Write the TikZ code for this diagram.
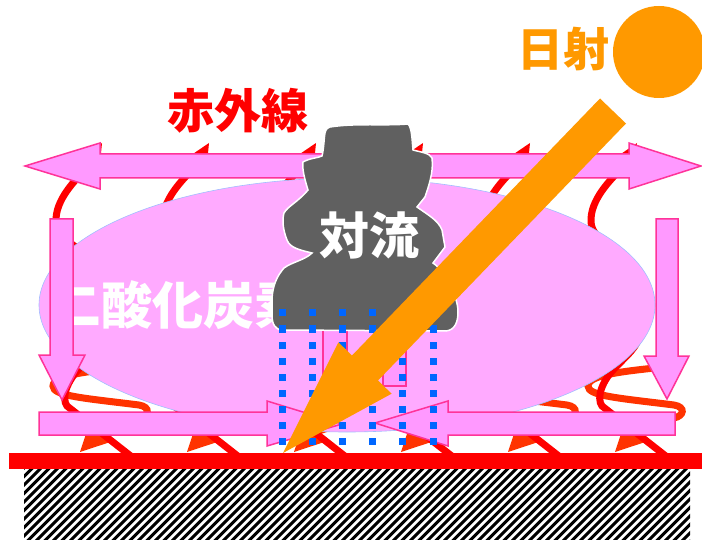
\documentclass[tikz,border=0pt]{standalone}
\usepackage{fontspec}
\newfontfamily\jp{Noto Sans CJK JP}
\definecolor{arrowpink}{RGB}{255,153,255}
\definecolor{arrowedge}{RGB}{255,51,153}
\definecolor{gaspink}{RGB}{255,170,255}
\definecolor{gasedge}{RGB}{160,190,255}
\definecolor{irred}{RGB}{255,0,0}
\definecolor{backred}{RGB}{255,51,0}
\definecolor{sunorange}{RGB}{255,153,0}
\definecolor{cloudgray}{RGB}{96,96,96}
\definecolor{dotblue}{RGB}{0,102,255}
\tikzset{
  pinkarrow/.style={fill=arrowpink,draw=arrowedge,line width=1.5pt,line join=miter},
  upwave/.style={draw=irred,line width=7pt},
  upwavehead/.style={fill=irred},
  downwave/.style={draw=backred,line width=7pt,line cap=round},
  downwavehead/.style={fill=backred},
  jplabel/.style={inner sep=0pt,outer sep=0pt},
  hatchline/.style={draw=black,line width=3pt},
  dotsq/.style={fill=dotblue}
}
\begin{document}
\begin{tikzpicture}[x=1pt,y=-1pt]
\useasboundingbox (0,0) rectangle (702,540);
\fill[white] (0,0) rectangle (702,540);

% hatched ground
\begin{scope}
  \clip (24,469) rectangle (690,540);
  \foreach \i in {0,...,95} {
    \pgfmathsetmacro\hx{-70+8.5*\i}
    \draw[hatchline] (\hx,545) -- ++(90,-90);
  }
\end{scope}

% back radiation coils (downward infrared)
\foreach \k in {0,...,5} {
  \pgfmathsetmacro\xl{53+107*\k}
  \begin{scope}[shift={(\xl,0)}]
    \draw[downwave] (85,366) .. controls (40,371) and (0,374) .. (0,386)
      .. controls (0,396) and (30,398) .. (86,405)
      .. controls (98,407) and (96,416) .. (86,418)
      .. controls (70,425) and (55,430) .. (46,433);
    \fill[downwavehead] (27,452) -- (58.6,441.6) -- (37.4,420.4) -- cycle;
  \end{scope}
}

% upward infrared from the ground
\foreach \k in {0,...,5} {
  \pgfmathsetmacro\xg{127+107*\k}
  \begin{scope}[shift={(\xg,0)}]
    \draw[upwave] (5,457) -- (-60,406)
      .. controls (-66,398) and (-60,380) .. (-45,366)
      .. controls (-30,350) and (-21,345) .. (-21,322)
      .. controls (-21,300) and (-20,285) .. (-24,272)
      .. controls (-32,252) and (-70,244) .. (-71,222)
      .. controls (-72,200) and (-52,180) .. (-39,167);
    \fill[upwavehead] (-25,143) -- (-28,173) -- (-50,160) -- cycle;
  \end{scope}
}

% carbon dioxide layer
\fill[gaspink,draw=gasedge,line width=0.6pt] (347,305) ellipse [x radius=308,y radius=127];
\node[jplabel,text=white,font={\jp\bfseries\fontsize{51}{51}\selectfont}] (co2) at (178,305) {二酸化炭素};

% rising air columns
\filldraw[pinkarrow] (323,300) rectangle (347,386);
\filldraw[pinkarrow] (383,300) rectangle (406,386);

% horizontal and vertical heat transport arrows
\filldraw[pinkarrow] (25,166) -- (100,143) -- (100,154) -- (629,154) -- (629,143)
  -- (701,166) -- (629,189) -- (629,178) -- (100,178) -- (100,189) -- cycle;
\filldraw[pinkarrow] (50,219) -- (73,219) -- (73,355) -- (85,355) -- (62,400)
  -- (39,355) -- (50,355) -- cycle;
\filldraw[pinkarrow] (656,219) -- (678,219) -- (678,356) -- (689,356) -- (667,399)
  -- (644,356) -- (656,356) -- cycle;
\filldraw[pinkarrow] (39,412) -- (267,412) -- (267,401) -- (342,424) -- (267,446)
  -- (267,435) -- (39,435) -- cycle;
\filldraw[pinkarrow] (675,412) -- (448,412) -- (448,401) -- (375,423) -- (448,446)
  -- (448,435) -- (675,435) -- cycle;

% convection cloud
\filldraw[fill=cloudgray,draw=white,line width=1.5pt]
  (330,127) .. controls (355,123) and (385,126) .. (408,124)
  .. controls (412,128) and (412,140) .. (413,150)
  .. controls (420,152) and (430,153) .. (432,158)
  .. controls (434,172) and (428,188) .. (425,197)
  -- (417,207)
  .. controls (428,215) and (438,220) .. (442,230)
  -- (445,247) -- (433,263)
  .. controls (440,268) and (445,275) .. (447,281)
  .. controls (452,290) and (458,300) .. (458,312)
  .. controls (458,322) and (455,330) .. (446,331)
  -- (283,330)
  .. controls (275,330) and (272,324) .. (272,315)
  -- (272,298)
  .. controls (273,285) and (277,276) .. (284,268)
  .. controls (292,262) and (305,260) .. (312,253)
  .. controls (300,250) and (290,248) .. (287,240)
  .. controls (283,230) and (282,220) .. (284,213)
  .. controls (288,206) and (298,202) .. (308,190)
  .. controls (305,180) and (302,170) .. (303,162)
  .. controls (310,158) and (318,158) .. (322,156)
  .. controls (324,148) and (324,138) .. (325,133)
  .. controls (326,129) and (328,127) .. (330,127) -- cycle;
\node[jplabel,text=white,font={\jp\bfseries\fontsize{50}{50}\selectfont}] (conv) at (369,235) {対流};

% dotted air columns
\foreach \cx in {282,312,342,372,402,433} {
  \foreach \j in {0,...,8} {
    \fill[dotsq] ({\cx-3.5},{309.5+16*\j}) rectangle ++(7,7);
  }
}

% ground surface
\fill[irred] (9,453) rectangle (702,469);

% sunlight
\fill[sunorange] (600,98.5) -- (352,355.5) -- (338.4,342.3) -- (283,453)
  -- (391.6,393.7) -- (378,380.5) -- (626,123.5) -- cycle;
\fill[sunorange] (659,52) circle [radius=46];

% labels
\node[jplabel,text=sunorange,font={\jp\bfseries\fontsize{46}{46}\selectfont}] (sunlabel) at (563,49) {日射};
\node[jplabel,text=irred,font={\jp\bfseries\fontsize{47}{47}\selectfont}] (irlabel) at (238,111) {赤外線};
\end{tikzpicture}
\end{document}
